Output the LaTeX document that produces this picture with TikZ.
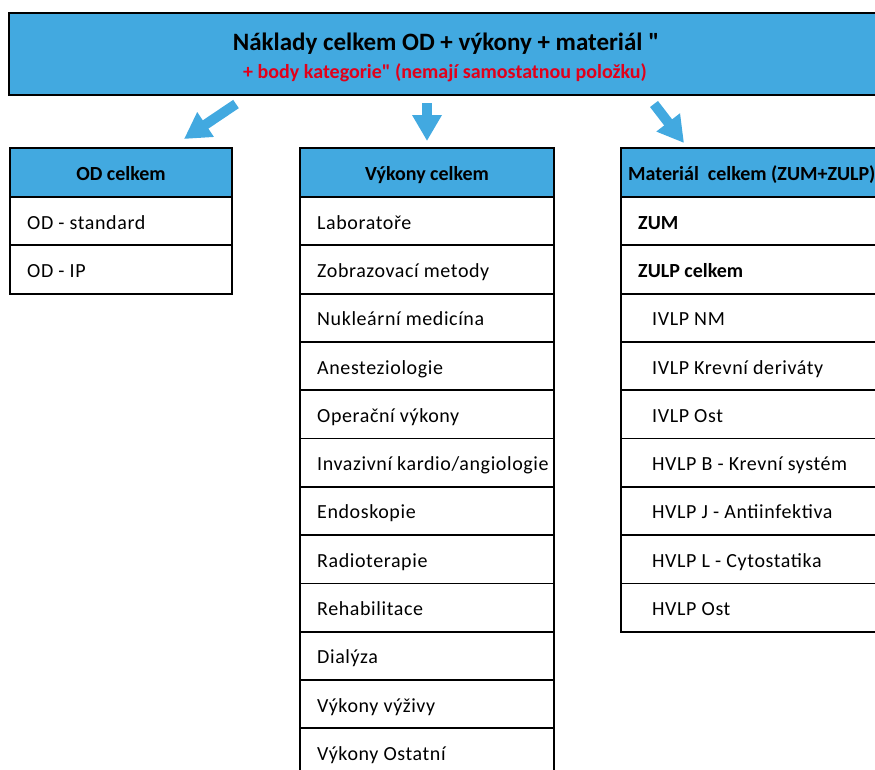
\documentclass[tikz,border=0pt]{standalone}
\usepackage{fontspec}
\setmainfont{Carlito}
\usepackage{tikz}
\usetikzlibrary{arrows.meta}
\usetikzlibrary{positioning}
\usetikzlibrary{calc}
\definecolor{hdrblue}{HTML}{42A9E0}
\definecolor{notered}{HTML}{E2001A}
\newcommand{\rowfont}{\fontsize{20}{24}\selectfont}
\newcommand{\spaced}{\addfontfeatures{LetterSpace=3}}

\begin{document}
\begin{tikzpicture}[x=1pt,y=-1pt,
  box/.style 2 args={
    rectangle,
    draw=black,
    line width=1.8pt,
    fill=#2,
    minimum width=#1,
    minimum height=48.3pt,
    inner sep=0pt,
    outer sep=0pt},
  txt/.style={
    anchor=west,
    inner sep=0pt,
    text height=20pt,
    text depth=4pt,
    font=\rowfont\spaced},
  hdr/.style={
    inner sep=0pt,
    text height=20pt,
    text depth=4pt,
    font=\rowfont\bfseries},
  blk/.style={
    -{Triangle[length=26pt,width=28pt]},
    line width=10pt,
    draw=hdrblue},
]

  \def\odx{121}%
  \def\vykx{427}%
  \def\matx{761}%
  \def\hdry{172.5}%
  \def\rowtop{197}%
  \def\rowh{48.3}%

  \useasboundingbox (0,0) rectangle (875,769);
  \clip (0,0) rectangle (875,769);

        \node[box={876pt}{hdrblue}, minimum height=82pt] (total) 
            at (447, 54) {};
        \node[hdr, text height=18pt, text depth=5pt, 
            font=\fontsize{25}{30}\selectfont\bfseries] (total_title) 
            at (446, 43.5) {Náklady celkem OD + výkony + materiál \textquotedbl};
        \node[hdr, text height=15pt, text depth=4pt, 
            font=\fontsize{20}{24}\selectfont\bfseries, text=notered] (total_note) 
            at (445, 72.5) {+ body kategorie\textquotedbl\ (nemají samostatnou položku)};


        \node[box={222pt}{hdrblue}, minimum height=49pt] (od_hdr) 
            at (\odx, \hdry) {};
        \node[hdr] (od_hdr_txt) at (od_hdr.center) {OD celkem};

        \node[box={254pt}{hdrblue}, minimum height=49pt] (vyk_hdr) 
            at (\vykx, \hdry) {};
        \node[hdr] (vyk_hdr_txt) at (vyk_hdr.center) {Výkony celkem};

        \node[box={280pt}{hdrblue}, minimum height=49pt] (mat_hdr) 
            at (\matx, \hdry) {};
        \node[hdr, anchor=west] (mat_hdr_txt) 
            at ([xshift=7pt]mat_hdr.west) {Materiál~ celkem (ZUM+ZULP)};


    \foreach \lbl [count=\i] in {OD - standard, OD - IP} {
        \node[box={222pt}{white}] (od_\i) 
            at (\odx, \rowtop + \rowh*\i - \rowh/2) {};
        \node[txt] (od_\i_txt) at ([xshift=17pt]od_\i.west) {\lbl};
    }

    \foreach \lbl [count=\i] in {Laboratoře, Zobrazovací metody, 
        Nukleární medicína, Anesteziologie, Operační výkony, 
        Invazivní kardio/angiologie, Endoskopie, Radioterapie, 
        Rehabilitace, Dialýza, Výkony výživy, Výkony Ostatní} {
        \node[box={254pt}{white}] (vyk_\i) 
            at (\vykx, \rowtop + \rowh*\i - \rowh/2) {};
        \node[txt] (vyk_\i_txt) at ([xshift=17pt]vyk_\i.west) {\lbl};
    }

    \foreach \lbl [count=\i] in {ZUM, ZULP celkem} {
        \node[box={280pt}{white}] (mat_\i) 
            at (\matx, \rowtop + \rowh*\i - \rowh/2) {};
        \node[txt, font=\rowfont\bfseries] (mat_\i_txt) 
            at ([xshift=17pt]mat_\i.west) {\lbl};
    }
    \foreach \lbl [count=\i from 3] in {IVLP NM, IVLP Krevní deriváty, 
        IVLP Ost, HVLP B - Krevní systém, HVLP J - Antiinfektiva, 
        HVLP L - Cytostatika, HVLP Ost} {
        \node[box={280pt}{white}] (mat_\i) 
            at (\matx, \rowtop + \rowh*\i - \rowh/2) {};
        \node[txt] (mat_\i_txt) at ([xshift=31pt]mat_\i.west) {\lbl};
    }


        \coordinate (arr_od_s) at (236, 104);
        \coordinate (arr_od_e) at (184, 139);
        \coordinate (arr_vyk_s) at (427, 103);
        \coordinate (arr_vyk_e) at (427, 141);
        \coordinate (arr_mat_s) at (654, 104);
        \coordinate (arr_mat_e) at (684, 143);

        \draw[blk] (arr_od_s) to (arr_od_e);
        \draw[blk] (arr_vyk_s) to (arr_vyk_e);
        \draw[blk] (arr_mat_s) to (arr_mat_e);

\end{tikzpicture}
\end{document}
